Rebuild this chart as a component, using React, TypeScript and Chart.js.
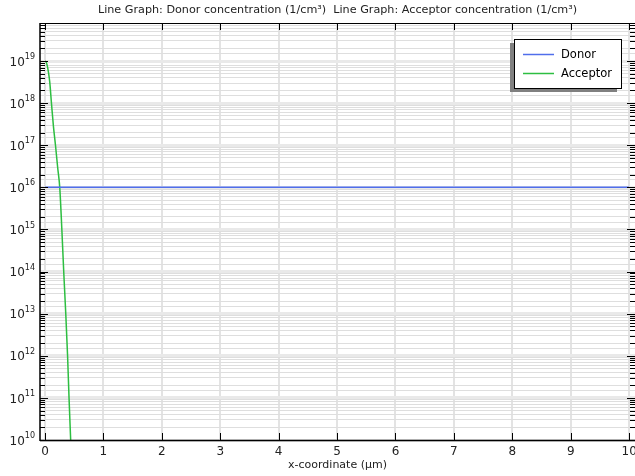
import React, { useEffect, useRef } from "react";
import { Chart, registerables } from "chart.js";

Chart.register(...registerables);

const titleText =
  "Line Graph: Donor concentration (1/cm³)  Line Graph: Acceptor concentration (1/cm³)";
const xAxisTitle = "x-coordinate (µm)";
const seriesLabels = ["Donor", "Acceptor"];
const seriesColors = ["rgb(80,110,235)", "rgb(45,190,65)"];

const donorX = [0, 10];
const donorY = [1e16, 1e16];

const acceptorX = [
  0, 0.02, 0.036, 0.06, 0.082, 0.111, 0.145, 0.18, 0.217, 0.253, 0.289, 0.321,
  0.356, 0.387, 0.412, 0.44,
];
const acceptorY = [
  1e19, 9.5e18, 8.07e18, 5.4e18, 3.16e18, 1e18, 2.8e17, 1e17, 3e16, 1e16,
  1e15, 1e14, 1e13, 1e12, 1e11, 1e10,
];

const xTickValues = [0, 1, 2, 3, 4, 5, 6, 7, 8, 9, 10];
const yExponents = [10, 11, 12, 13, 14, 15, 16, 17, 18, 19];
const xMin = -0.085;
const xMax = 10.1;
const yMin = 1e10;
const yMax = 8e19;

const FONT = "'DejaVu Sans', sans-serif";

const isMajor = (v: number) => {
  const l = Math.log10(v);
  return Math.abs(l - Math.round(l)) < 1e-9;
};

const decorPlugin = {
  id: "decor",
  afterDraw(chart: any) {
    const ctx = chart.ctx as CanvasRenderingContext2D;
    const { left, right, top, bottom } = chart.chartArea;
    const xs = chart.scales.x;
    const ys = chart.scales.y;
    ctx.save();
    ctx.strokeStyle = "#000";
    ctx.lineWidth = 1;
    // frame
    ctx.beginPath();
    ctx.moveTo(left, top + 0.5);
    ctx.lineTo(right + 2, top + 0.5);
    ctx.stroke();
    ctx.lineWidth = 1.5;
    ctx.beginPath();
    ctx.moveTo(left, bottom + 0.5);
    ctx.lineTo(right + 2, bottom + 0.5);
    ctx.moveTo(left, top);
    ctx.lineTo(left, bottom + 1);
    ctx.stroke();
    ctx.lineWidth = 1;
    // x ticks
    ctx.beginPath();
    for (const v of xTickValues) {
      const px = Math.round(xs.getPixelForValue(v)) + 0.5;
      ctx.moveTo(px, bottom);
      ctx.lineTo(px, bottom - 7);
      ctx.moveTo(px, top);
      ctx.lineTo(px, top + 7);
    }
    // y ticks
    for (const e of yExponents) {
      for (let m = 1; m <= 9; m++) {
        const val = m * Math.pow(10, e);
        if (val > yMax) break;
        const py = Math.round(ys.getPixelForValue(val)) + 0.5;
        const len = m === 1 ? 8 : 5;
        ctx.moveTo(left, py);
        ctx.lineTo(left + len, py);
        ctx.moveTo(right, py);
        ctx.lineTo(right - len, py);
      }
    }
    ctx.stroke();

    // x labels
    ctx.fillStyle = "#222";
    ctx.font = `12px ${FONT}`;
    ctx.textAlign = "center";
    ctx.textBaseline = "middle";
    for (const v of xTickValues) {
      ctx.fillText(String(v), xs.getPixelForValue(v), bottom + 12);
    }
    // y labels with superscripts
    for (const e of yExponents) {
      const py = ys.getPixelForValue(Math.pow(10, e));
      ctx.font = `8px ${FONT}`;
      const sup = String(e);
      const supW = ctx.measureText(sup).width;
      const endX = left - 5;
      ctx.textAlign = "right";
      ctx.textBaseline = "middle";
      ctx.fillText(sup, endX, py - 4);
      ctx.font = `12px ${FONT}`;
      ctx.fillText("10", endX - supW, py + 1.5);
    }
    // axis title
    ctx.font = `11px ${FONT}`;
    ctx.textAlign = "center";
    ctx.fillText(xAxisTitle, (left + right) / 2, 465);
    // title
    ctx.font = `11.2px ${FONT}`;
    ctx.fillText(titleText, (left + right) / 2, 10);

    // legend
    const bx = 514, by = 39, bw = 107, bh = 49;
    ctx.fillStyle = "#808080";
    ctx.fillRect(bx - 4, by + 4, bw, bh);
    ctx.fillStyle = "#fff";
    ctx.fillRect(bx, by, bw, bh);
    ctx.strokeStyle = "#000";
    ctx.lineWidth = 1;
    ctx.strokeRect(bx + 0.5, by + 0.5, bw, bh);
    const ds = chart.data.datasets;
    ds.forEach((d: any, i: number) => {
      const ly = 54 + i * 19;
      ctx.strokeStyle = d.borderColor;
      ctx.lineWidth = 1.5;
      ctx.beginPath();
      ctx.moveTo(523, ly + 0.5);
      ctx.lineTo(554, ly + 0.5);
      ctx.stroke();
      ctx.fillStyle = "#000";
      ctx.font = `11.5px ${FONT}`;
      ctx.textAlign = "left";
      ctx.textBaseline = "middle";
      ctx.fillText(d.label, 561, ly + 1);
    });
    ctx.restore();
  },
};

export default function App() {
  const ref = useRef<HTMLCanvasElement | null>(null);
  useEffect(() => {
    if (!ref.current) return;
    const chart = new Chart(ref.current, {
      type: "line",
      data: {
        datasets: [
          {
            label: seriesLabels[0],
            data: donorX.map((x, i) => ({ x, y: donorY[i] })),
            borderColor: seriesColors[0],
            borderWidth: 1.5,
            pointRadius: 0,
            tension: 0,
          },
          {
            label: seriesLabels[1],
            data: acceptorX.map((x, i) => ({ x, y: acceptorY[i] })),
            borderColor: seriesColors[1],
            borderWidth: 1.5,
            pointRadius: 0,
            cubicInterpolationMode: "monotone",
          },
        ],
      },
      options: {
        animation: false,
        responsive: true,
        maintainAspectRatio: false,
        layout: { padding: { left: 40, top: 23, right: 0, bottom: 36 } },
        plugins: {
          legend: { display: false },
          title: { display: false },
          tooltip: { enabled: false },
        },
        scales: {
          x: {
            type: "linear",
            min: xMin,
            max: xMax,
            ticks: { stepSize: 1, display: false, includeBounds: false },
            grid: { color: "#e3e3e3", lineWidth: 2, drawTicks: false },
            border: { display: false },
          },
          y: {
            type: "logarithmic",
            min: yMin,
            max: yMax,
            ticks: { display: false },
            grid: {
              color: (c: any) => (c.tick && isMajor(c.tick.value) ? "#e9e9e9" : "#dedede"),
              lineWidth: (c: any) => (c.tick && isMajor(c.tick.value) ? 3 : 1),
              drawTicks: false,
            },
            border: { display: false },
          },
        },
      },
      plugins: [decorPlugin],
    } as any);
    return () => chart.destroy();
  }, []);
  return (
    <div style={{ position: "fixed", left: 0, top: 0, width: 635, height: 476, background: "#fff" }}>
      <canvas ref={ref} />
    </div>
  );
}
